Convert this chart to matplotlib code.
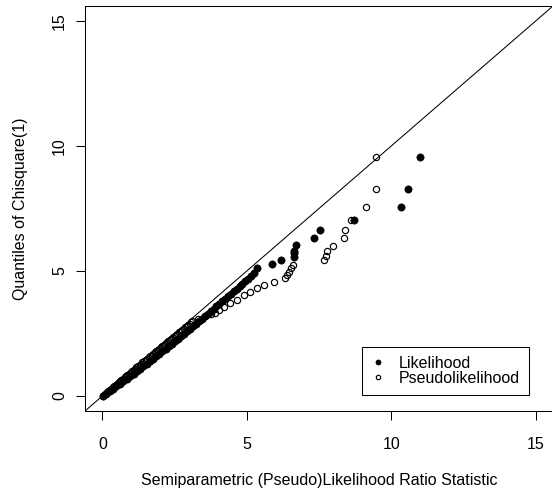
import matplotlib
matplotlib.use("Agg")
import matplotlib.pyplot as plt

plt.rcParams['font.family'] = ['Liberation Sans', 'DejaVu Sans']

# Likelihood ratio statistic (x) vs chi-square(1) quantiles (y)
lik_y = [0.02, 0.1, 0.2, 0.3, 0.4, 0.5, 0.6, 0.7, 0.8, 0.9, 1.0, 1.1, 1.2, 1.3,
         1.4, 1.5, 1.6, 1.7, 1.8, 1.9, 2.0, 2.1, 2.2, 2.3, 2.4, 2.5, 2.6, 2.7,
         2.8, 2.9, 3.0, 3.1, 3.2, 3.3, 3.4, 3.5, 3.6, 3.7, 3.8, 3.9, 4.0, 4.1,
         4.2, 4.3, 4.4, 4.5, 4.6, 4.7, 4.8, 4.91, 5.11, 5.28, 5.44, 5.57, 5.71,
         5.81, 6.03, 6.31, 6.63, 7.03, 7.55, 8.27, 9.55]
lik_x = [0.03, 0.14, 0.26, 0.37, 0.49, 0.61, 0.73, 0.85, 0.96, 1.08, 1.2, 1.31,
         1.42, 1.53, 1.64, 1.75, 1.86, 1.97, 2.08, 2.19, 2.3, 2.41, 2.51, 2.62,
         2.72, 2.83, 2.93, 3.04, 3.14, 3.25, 3.35, 3.45, 3.55, 3.65, 3.75, 3.85,
         3.95, 4.05, 4.15, 4.25, 4.35, 4.45, 4.55, 4.65, 4.75, 4.85, 4.95, 5.05,
         5.15, 5.24, 5.35, 5.87, 6.18, 6.63, 6.64, 6.65, 6.71, 7.34, 7.55, 8.70,
         10.35, 10.57, 11.0]

# Pseudolikelihood ratio statistic (x) vs chi-square(1) quantiles (y)
pl_y = [0.02, 0.05, 0.1, 0.15, 0.2, 0.25, 0.3, 0.35, 0.4, 0.45,
        0.5, 0.55, 0.6, 0.65, 0.7, 0.75, 0.8, 0.85, 0.9, 0.95,
        1.0, 1.05, 1.1, 1.15, 1.2, 1.25, 1.3, 1.35, 1.4, 1.45,
        1.5, 1.55, 1.6, 1.65, 1.7, 1.75, 1.8, 1.85, 1.9, 1.95,
        2.0, 2.05, 2.1, 2.15, 2.2, 2.25, 2.3, 2.35, 2.4, 2.45,
        2.5, 2.55, 2.6, 2.65, 2.7, 2.75, 2.8, 2.85, 2.9, 2.95,
        3.0, 3.1, 3.2, 3.27, 3.33, 3.45, 3.57, 3.71, 3.84, 4.04, 4.17,
        4.31, 4.44, 4.57, 4.71, 4.85, 4.98, 5.11, 5.23, 5.43, 5.60, 5.81, 6.01,
        6.31, 6.63, 7.03, 7.55, 8.27, 9.55]
pl_x = [0.02, 0.05, 0.1, 0.15, 0.2, 0.26, 0.31, 0.36, 0.41, 0.46,
        0.51, 0.56, 0.61, 0.66, 0.72, 0.77, 0.82, 0.87, 0.92, 0.98,
        1.03, 1.08, 1.13, 1.18, 1.24, 1.29, 1.34, 1.39, 1.44, 1.5,
        1.55, 1.6, 1.66, 1.71, 1.76, 1.81, 1.87, 1.92, 1.97, 2.02,
        2.08, 2.13, 2.18, 2.24, 2.29, 2.34, 2.39, 2.45, 2.5, 2.55,
        2.6, 2.66, 2.71, 2.76, 2.81, 2.87, 2.92, 2.97, 3.02, 3.07,
        3.12, 3.3, 3.55, 3.75, 3.9, 4.05, 4.2, 4.43, 4.66, 4.89, 5.12,
        5.35, 5.58, 5.93, 6.33, 6.39, 6.45, 6.52, 6.59, 7.69, 7.74, 7.78, 8.0,
        8.35, 8.4, 8.62, 9.12, 9.47, 9.49]

ticks = [0, 5, 10, 15]
fs = 11.5

fig = plt.figure(figsize=(5.52, 4.93), dpi=100)
ax = fig.add_axes([85/552, 82/493, 468/552, 405/493])

ax.axline((0, 0), slope=1, color='black', lw=0.75)
ax.plot(pl_x, pl_y, 'o', mfc='none', mec='black', ms=4.5, mew=0.85,
        label='Pseudolikelihood', zorder=3)
ax.plot(lik_x, lik_y, 'o', color='black', ms=5.2, mew=0.5,
        label='Likelihood', zorder=4)

ax.set_xlim(-0.6, 15.6)
ax.set_ylim(-0.6, 15.6)
ax.set_xticks(ticks)
ax.set_yticks(ticks)
ax.tick_params(axis='both', direction='out', length=6.5, width=0.75,
               labelsize=fs, colors='black')
ax.tick_params(axis='x', pad=12)
ax.tick_params(axis='y', pad=6.5, labelrotation=90)
for lab in ax.get_yticklabels():
    lab.set_va('center')
for sp in ax.spines.values():
    sp.set_linewidth(0.75)

ax.set_xlabel('Semiparametric (Pseudo)Likelihood Ratio Statistic', fontsize=fs)
ax.set_ylabel('Quantiles of Chisquare(1)', fontsize=fs)
ax.xaxis.set_label_coords(0.5, -0.153)
ax.yaxis.set_label_coords(-0.1218, 0.5)

handles, labels = ax.get_legend_handles_labels()
leg = ax.legend(handles[::-1], labels[::-1], loc='upper left',
                bbox_to_anchor=(362/552, 1 - 347/493),
                bbox_transform=fig.transFigure, borderaxespad=0,
                fontsize=fs, fancybox=False, edgecolor='black',
                framealpha=1, markerscale=0.7, borderpad=0.55,
                labelspacing=0.0, handlelength=0.9, handletextpad=0.88)
leg.get_frame().set_linewidth(0.75)

fig.savefig('out.png', dpi=100)
